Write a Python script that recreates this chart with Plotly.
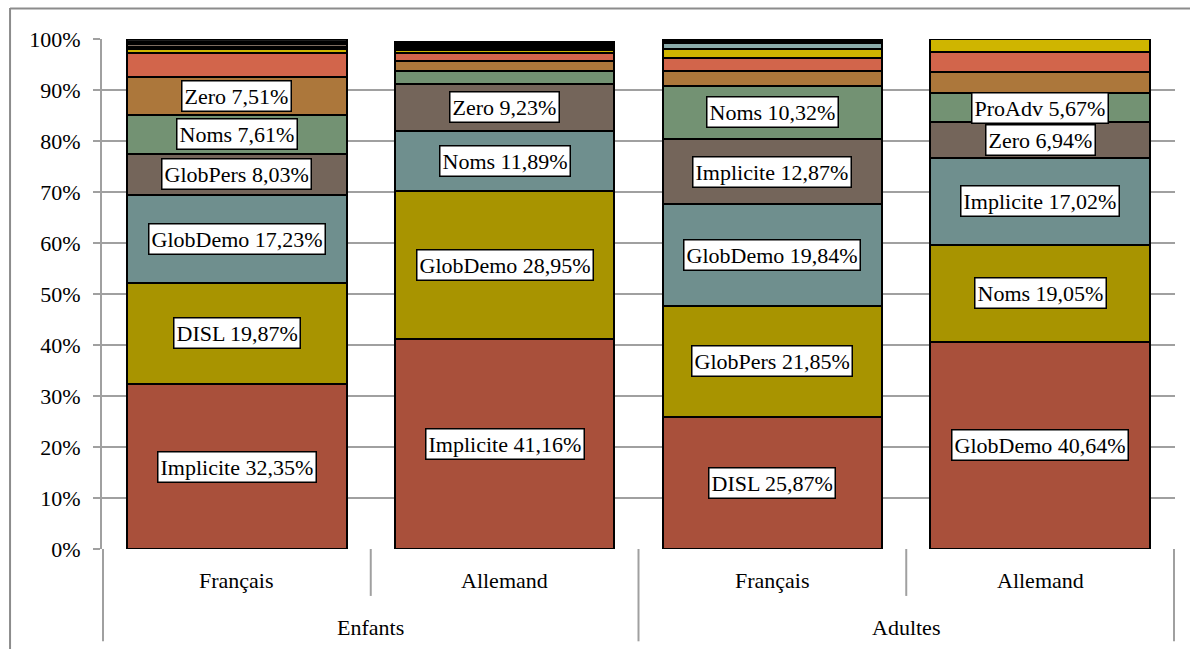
import plotly.graph_objects as go

# Categories
groups = ["Enfants", "Enfants", "Adultes", "Adultes"]
langs = ["Français", "Allemand", "Français", "Allemand"]

# Stacked segments by rank (bottom to top) for each bar
rank_values = [
    [32.35, 41.16, 25.87, 40.64],
    [19.87, 28.95, 21.85, 19.05],
    [17.23, 11.89, 19.84, 17.02],
    [8.03, 9.23, 12.87, 6.94],
    [7.61, 2.40, 10.32, 5.67],
    [7.51, 2.00, 3.00, 4.20],
    [4.60, 1.60, 2.50, 4.00],
    [0.75, 0.60, 1.80, 2.48],
    [0.55, 0.45, 1.20, 0.00],
    [0.50, 0.40, 0.40, 0.00],
    [0.50, 0.40, 0.35, 0.00],
    [0.50, 0.32, 0.00, 0.00],
]
rank_names = [
    ["Implicite", "Implicite", "DISL", "GlobDemo"],
    ["DISL", "GlobDemo", "GlobPers", "Noms"],
    ["GlobDemo", "Noms", "GlobDemo", "Implicite"],
    ["GlobPers", "Zero", "Implicite", "Zero"],
    ["Noms", None, "Noms", "ProAdv"],
    ["Zero", None, None, None],
]
rank_colors = ["#A9503B", "#A89400", "#6F8F8E", "#74655A", "#739273", "#AC773B",
               "#D2654B", "#CFB500", "#8AABAA", "#7D6C60", "#2E2E2E", "#1E1E1E"]
y_ticks = list(range(0, 101, 10))

FONT = "Liberation Serif"
GRID = "#A0A0A0"
fig = go.Figure()
x_multi = [groups, langs]
for i, vals in enumerate(rank_values):
    fig.add_trace(go.Bar(
        x=x_multi, y=vals, marker=dict(color=rank_colors[i], line=dict(color="black", width=2)),
        showlegend=False, hoverinfo="skip"))

# Data labels
cum = [0.0] * len(langs)
for i, vals in enumerate(rank_values):
    for j, v in enumerate(vals):
        if i < len(rank_names) and rank_names[i][j]:
            txt = f"{rank_names[i][j]} {v:.2f}".replace(".", ",") + "%"
            fig.add_annotation(x=j, y=cum[j] + v / 2, xref="x", yref="y", text=txt,
                               showarrow=False, bgcolor="white", bordercolor="black",
                               borderwidth=1.5, borderpad=2,
                               font=dict(family=FONT, size=22, color="black"))
        cum[j] += v

# Hierarchical category labels and dividers
n = len(langs)
for j, lab in enumerate(langs):
    fig.add_annotation(x=j, y=-0.062, xref="x", yref="paper", yanchor="middle", text=lab,
                       showarrow=False, font=dict(family=FONT, size=22, color="black"))
start = 0
for j in range(1, n + 1):
    if j == n or groups[j] != groups[start]:
        fig.add_annotation(x=(start + j - 1) / 2, y=-0.154, xref="x", yref="paper",
                           yanchor="middle", text=groups[start], showarrow=False,
                           font=dict(family=FONT, size=22, color="black"))
        start = j
for j in range(n + 1):
    outer = j == 0 or j == n or groups[j] != groups[j - 1]
    fig.add_shape(type="line", xref="x", yref="paper", x0=j - 0.5, x1=j - 0.5,
                  y0=0, y1=-0.181 if outer else -0.092, line=dict(color=GRID, width=2))

fig.update_layout(
    barmode="stack", bargap=0.18,
    width=1190, height=649,
    margin=dict(l=102, r=15, t=39, b=100),
    plot_bgcolor="white", paper_bgcolor="white",
    font=dict(family=FONT, size=22, color="black"),
    xaxis=dict(type="multicategory", showgrid=False, showline=False, ticks="",
               showticklabels=False, showdividers=False),
    yaxis=dict(range=[0, 100], tickvals=y_ticks, ticktext=[f"{t}%" for t in y_ticks],
               showgrid=True, gridcolor=GRID, gridwidth=2,
               showline=True, linecolor=GRID, linewidth=2,
               ticks="outside", ticklen=7, tickcolor=GRID, tickwidth=2,
               ticklabelstandoff=8,
               zeroline=False, tickfont=dict(family=FONT, size=22)),
)
# chart frame (left and top edges)
fig.add_shape(type="line", xref="paper", yref="paper", x0=-0.0857, x1=-0.0857, y0=-0.25, y1=1.0608,
              line=dict(color="#8C8C8C", width=2), layer="above")
fig.add_shape(type="line", xref="paper", yref="paper", x0=-0.0857, x1=1.1, y0=1.0598, y1=1.0598,
              line=dict(color="#8C8C8C", width=2), layer="above")
fig.write_html("out.html")
